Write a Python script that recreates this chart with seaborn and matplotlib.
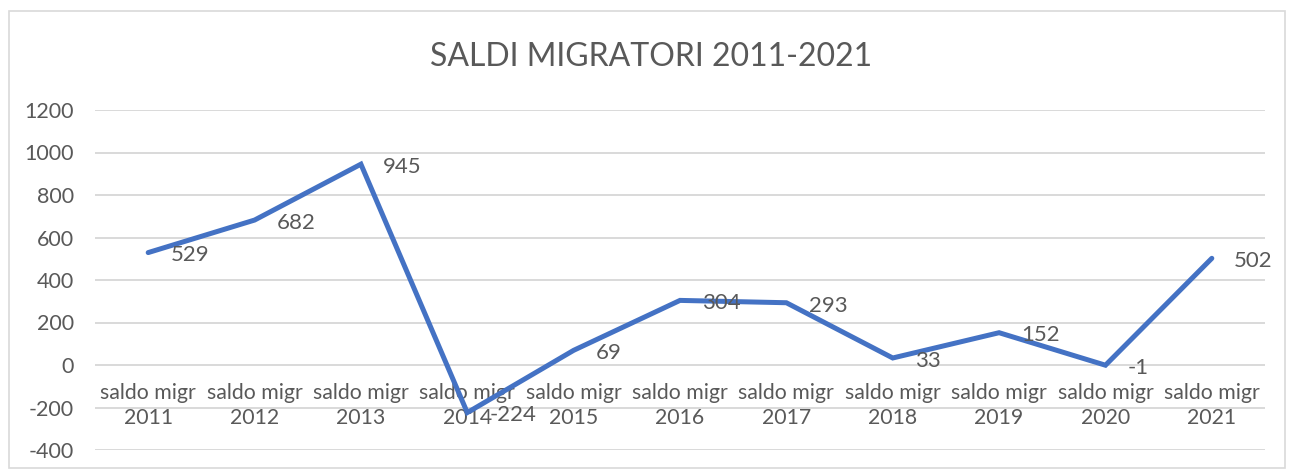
import matplotlib

matplotlib.use("Agg")
import matplotlib.pyplot as plt
import pandas as pd
import seaborn as sns
from matplotlib.patches import Rectangle

years = ["2011", "2012", "2013", "2014", "2015", "2016", "2017", "2018", "2019", "2020", "2021"]
saldo = [529, 682, 945, -224, 69, 304, 293, 33, 152, -1, 502]
labels = [f"saldo migr\n{y}" for y in years]

LINE = "#4472C4"
TEXT = "#595959"
GRID = "#D9D9D9"

sns.set_theme(style="white")
plt.rcParams["font.family"] = ["Lato", "DejaVu Sans"]
plt.rcParams["axes.unicode_minus"] = False

df = pd.DataFrame({"cat": labels, "saldo": saldo})

fig = plt.figure(figsize=(12.93, 4.72), dpi=100)
ax = fig.add_axes([95 / 1293, 1 - 450 / 472, 1170 / 1293, 340 / 472])

sns.lineplot(data=df, x="cat", y="saldo", color=LINE, linewidth=3.6,
             sort=False, ax=ax, solid_joinstyle="miter")

ax.set_ylim(-400, 1200)
ax.set_yticks(range(-400, 1201, 200))
ax.set_xlim(-0.5, len(labels) - 0.5)
ax.yaxis.grid(True, color=GRID, linewidth=1.4)
ax.set_axisbelow(True)
for s in ax.spines.values():
    s.set_visible(False)
ax.spines["bottom"].set_position(("data", 0))
ax.tick_params(axis="y", length=0, pad=15, labelsize=15.5, labelcolor=TEXT)
ax.tick_params(axis="x", length=0, pad=13, labelsize=15.3, labelcolor=TEXT)
for t in ax.get_xticklabels():
    t.set_linespacing(1.3)
ax.set_xlabel("")
ax.set_ylabel("")

for i, v in enumerate(saldo):
    ax.annotate(str(v), (i, v), xytext=(16, -2), textcoords="offset points",
                va="center", ha="left", fontsize=16, color=TEXT)

fig.text(651 / 1293, 1 - 57 / 472, "SALDI MIGRATORI 2011-2021", ha="center",
         va="center", fontsize=23, color=TEXT)

fig.patches.append(Rectangle((9 / 1293, 4 / 472), 1276 / 1293, 457 / 472,
                             transform=fig.transFigure, fill=False,
                             edgecolor=GRID, linewidth=1.2))

fig.savefig("out.png", dpi=100)
